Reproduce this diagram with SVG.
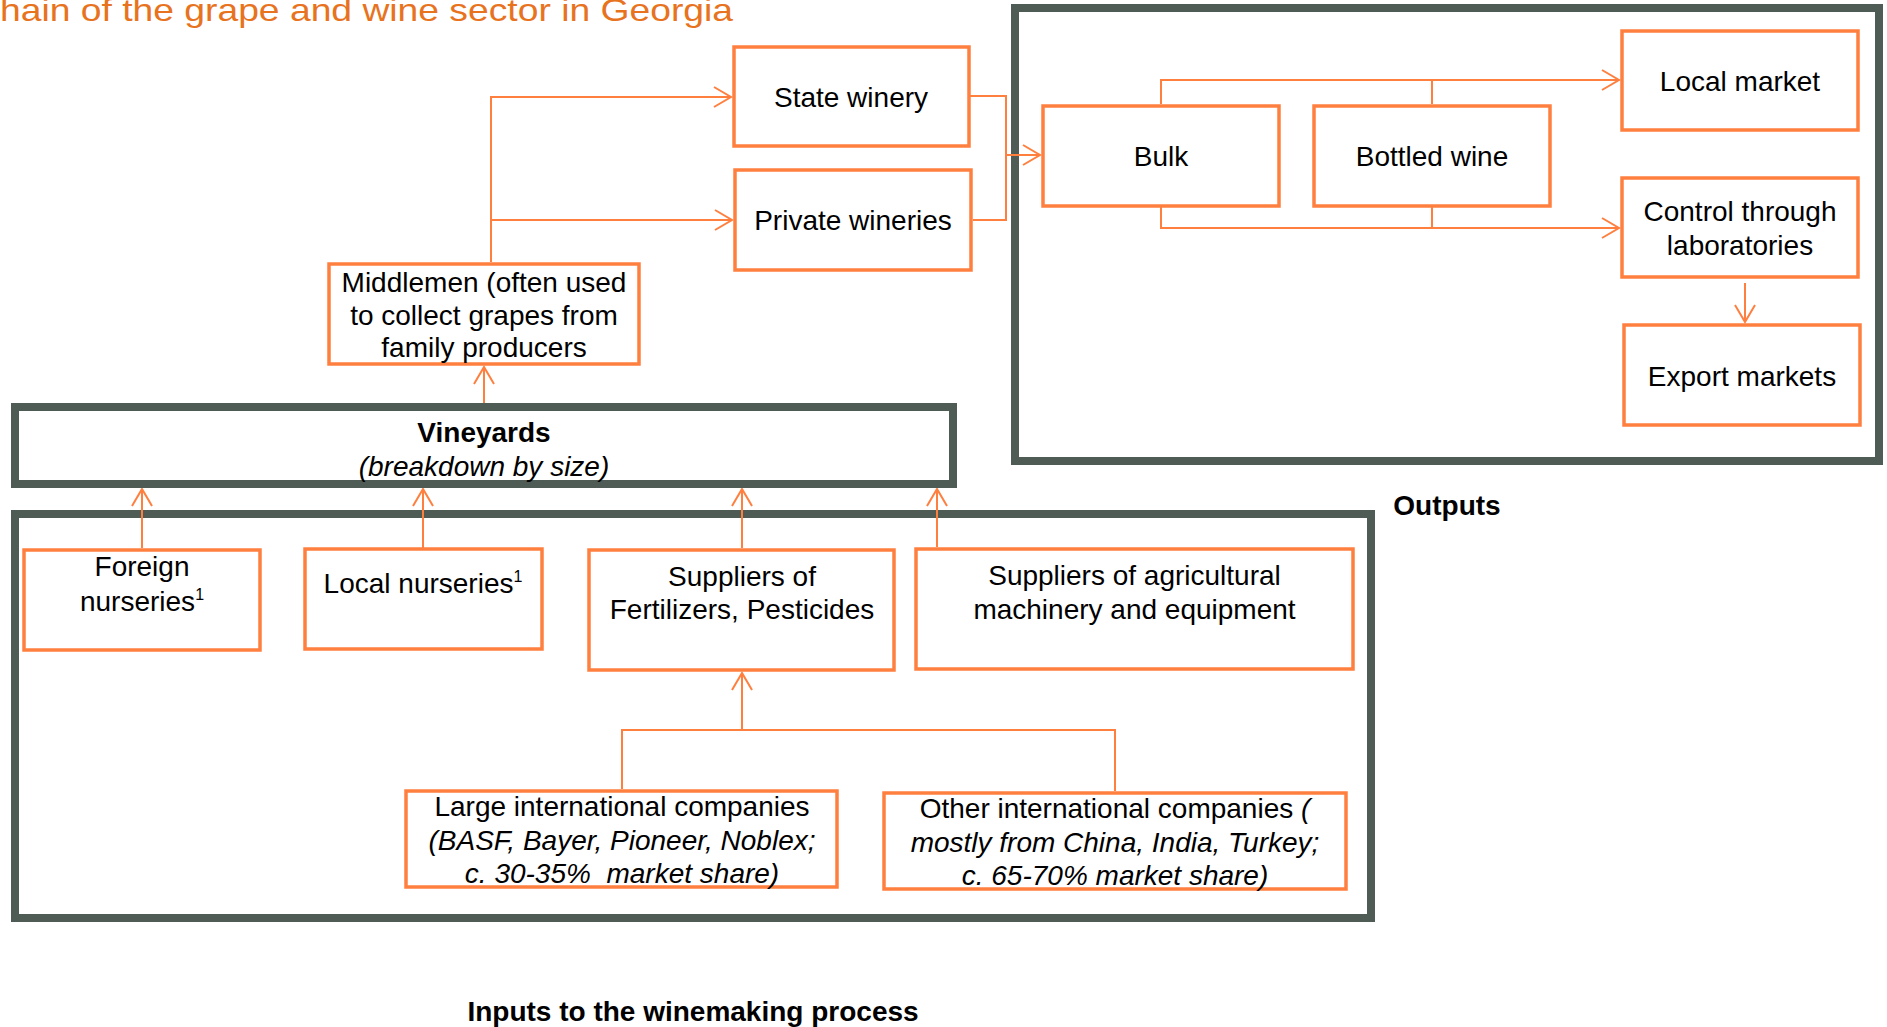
<svg xmlns="http://www.w3.org/2000/svg" width="1887" height="1027" viewBox="0 0 1887 1027">
<style>
.box{fill:#fff;stroke:#FF7F3F;stroke-width:3.5}
.frame{fill:none;stroke:#4F5B55;stroke-width:8}
.t{font-family:"Liberation Sans",Arial,sans-serif;font-size:28px;fill:#000;text-anchor:middle}
.b{font-weight:bold}
.i{font-style:italic}
.c{fill:none;stroke:#FF7F3F;stroke-width:2}
</style>
<defs>
<marker id="arr" viewBox="-19 -12 21 24" refX="0" refY="0" markerWidth="21" markerHeight="24" markerUnits="userSpaceOnUse" orient="auto">
<path d="M-17,-10 L0,0 L-17,10" fill="none" stroke="#FF7F3F" stroke-width="2"/>
</marker>
</defs>
<rect width="1887" height="1027" fill="#fff"/>
<text x="0" y="21" font-family="Liberation Sans,Arial,sans-serif" font-size="32" fill="#E8731E" textLength="733" lengthAdjust="spacingAndGlyphs">hain of the grape and wine sector in Georgia</text>

<g id="frames">
<rect class="frame" x="1015" y="8" width="864" height="453"/>
<rect class="frame" x="15" y="514" width="1356" height="404"/>
</g>

<g id="connectors">
<path class="c" d="M491,262 V97 H731" marker-end="url(#arr)"/>
<path class="c" d="M491,220 H732" marker-end="url(#arr)"/>
<path class="c" d="M484,403 V367" marker-end="url(#arr)"/>
<path class="c" d="M970,96 H1006 V220 H973"/>
<path class="c" d="M1006,155 H1040" marker-end="url(#arr)"/>
<path class="c" d="M1161,104 V80 H1619" marker-end="url(#arr)"/>
<path class="c" d="M1432,104 V80"/>
<path class="c" d="M1161,207 V228 H1619" marker-end="url(#arr)"/>
<path class="c" d="M1432,207 V228"/>
<path class="c" d="M1745,283 V322" marker-end="url(#arr)"/>
<path class="c" d="M142,548 V489" marker-end="url(#arr)"/>
<path class="c" d="M423,548 V489" marker-end="url(#arr)"/>
<path class="c" d="M742,548 V489" marker-end="url(#arr)"/>
<path class="c" d="M937,547 V489" marker-end="url(#arr)"/>
<path class="c" d="M622,789 V730 H1115 V791"/>
<path class="c" d="M742,730 V673" marker-end="url(#arr)"/>
</g>

<g id="vineyards">
<rect class="frame" x="15" y="407" width="938" height="77"/>
<text class="t b" x="484" y="442">Vineyards</text>
<text class="t i" x="484" y="476">(breakdown by size)</text>
</g>

<g id="state-winery">
<rect class="box" x="734" y="47" width="235" height="99"/>
<text class="t" x="851" y="107">State winery</text>
</g>
<g id="private-wineries">
<rect class="box" x="735" y="170" width="236" height="100"/>
<text class="t" x="853" y="230">Private wineries</text>
</g>
<g id="middlemen">
<rect class="box" x="329" y="264" width="310" height="100"/>
<text class="t" x="484" y="292">Middlemen (often used</text>
<text class="t" x="484" y="324.5">to collect grapes from</text>
<text class="t" x="484" y="357">family producers</text>
</g>
<g id="bulk">
<rect class="box" x="1043" y="106" width="236" height="100"/>
<text class="t" x="1161" y="166">Bulk</text>
</g>
<g id="bottled-wine">
<rect class="box" x="1314" y="106" width="236" height="100"/>
<text class="t" x="1432" y="166">Bottled wine</text>
</g>
<g id="local-market">
<rect class="box" x="1622" y="31" width="236" height="99"/>
<text class="t" x="1740" y="91">Local market</text>
</g>
<g id="control">
<rect class="box" x="1622" y="178" width="236" height="99"/>
<text class="t" x="1740" y="221">Control through</text>
<text class="t" x="1740" y="255">laboratories</text>
</g>
<g id="export-markets">
<rect class="box" x="1624" y="325" width="236" height="100"/>
<text class="t" x="1742" y="386">Export markets</text>
</g>

<g id="foreign-nurseries">
<rect class="box" x="24" y="550" width="236" height="100"/>
<text class="t" x="142" y="576">Foreign</text>
<text class="t" x="142" y="611">nurseries<tspan font-size="16" dy="-11">1</tspan></text>
</g>
<g id="local-nurseries">
<rect class="box" x="305" y="549" width="237" height="100"/>
<text class="t" x="423" y="593">Local nurseries<tspan font-size="16" dy="-11">1</tspan></text>
</g>
<g id="fertilizers">
<rect class="box" x="589" y="550" width="305" height="120"/>
<text class="t" x="742" y="586">Suppliers of</text>
<text class="t" x="742" y="619">Fertilizers, Pesticides</text>
</g>
<g id="machinery">
<rect class="box" x="916" y="549" width="437" height="120"/>
<text class="t" x="1134.5" y="585">Suppliers of agricultural</text>
<text class="t" x="1134.5" y="619">machinery and equipment</text>
</g>
<g id="large-intl">
<rect class="box" x="406" y="791" width="431" height="96"/>
<text class="t" x="622" y="816">Large international companies</text>
<text class="t i" x="622" y="850">(BASF, Bayer, Pioneer, Noblex;</text>
<text class="t i" x="622" y="883" xml:space="preserve">c. 30-35%  market share)</text>
</g>
<g id="other-intl">
<rect class="box" x="884" y="793" width="462" height="96"/>
<text class="t" x="1115" y="818">Other international companies <tspan class="i">(</tspan></text>
<text class="t i" x="1115" y="852">mostly from China, India, Turkey;</text>
<text class="t i" x="1115" y="885">c. 65-70% market share)</text>
</g>

<text class="t b" x="1447" y="515">Outputs</text>
<text class="t b" x="693" y="1021">Inputs to the winemaking process</text>
</svg>
